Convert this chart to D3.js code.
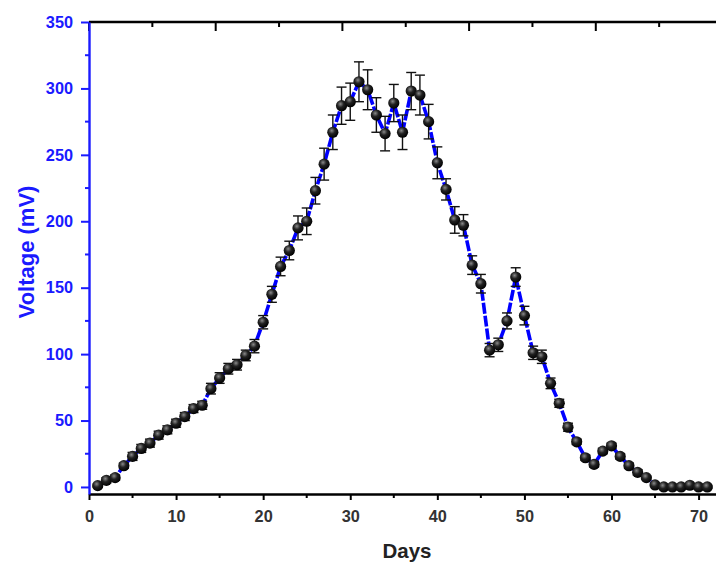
<!DOCTYPE html>
<html>
<head>
<meta charset="utf-8">
<script src="https://cdn.jsdelivr.net/npm/d3@7/dist/d3.min.js"></script>
<style>
  body { margin: 0; background: #fff; }
  svg { display: block; font-family: Arial, "Liberation Sans", sans-serif; }
</style>
</head>
<body>
<div class="canvas"></div>
<script>
// data: days, mean voltage (mV), error (mV)
const days = d3.range(1, 72);
const voltage = [
  1, 5, 7, 16, 23, 29, 33, 39, 43, 48,
  53, 59, 61.5, 74, 82, 89, 92, 99, 106, 124,
  145, 166, 178, 195, 200, 223, 243, 267, 287, 290,
  305, 299, 280, 266, 289, 267, 298, 295, 275, 244,
  224, 201, 197, 167, 153, 103, 107, 125, 158, 129,
  101, 98, 78, 63, 45, 34, 22, 17, 27, 31,
  23, 16, 11, 7, 1.5, 0, 0, 0, 1.3, 0, 0
];
const errors = [
  1, 2, 2, 2, 3, 3, 3, 3, 3, 3,
  3, 3, 3, 4, 4, 4, 4, 4, 5, 5,
  6, 7, 7, 9, 10, 10, 12, 13, 14, 14,
  15, 15, 13, 13, 14, 13, 14, 15, 13, 12,
  8, 10, 8, 7, 7, 5, 5, 6, 7, 7,
  5, 5, 4, 3, 3, 2, 2, 2, 2, 2,
  2, 2, 2, 1, 1, 1, 1, 1, 1, 1, 1
];
const xTicks = [0, 10, 20, 30, 40, 50, 60, 70];
const yTicks = [0, 50, 100, 150, 200, 250, 300, 350];

const data = days.map((d, i) => ({ day: d, v: voltage[i], e: errors[i] }));

// dimensions
const dims = { width: 716, height: 563 };
const margin = { left: 89, right: 0, top: 22, bottom: 69 };
const blue = '#1a1aff';

const svg = d3.select('.canvas')
  .append('svg')
    .attr('width', dims.width)
    .attr('height', dims.height);

// scales
const x = d3.scaleLinear().domain([0, 72]).range([margin.left, 716]);
const y = d3.scaleLinear().domain([-5.3, 350]).range([dims.height - margin.bottom, margin.top]);
// top axis in Origin has its own spacing (major every ~126.7px)
const xTop = d3.scaleLinear().domain([0, (716 - margin.left) / 126.7]).range([margin.left, 716]);

// marker gradient
const defs = svg.append('defs');
const grad = defs.append('radialGradient')
  .attr('id', 'ball').attr('cx', '40%').attr('cy', '35%').attr('r', '65%');
grad.append('stop').attr('offset', '0%').attr('stop-color', '#8a8a8a');
grad.append('stop').attr('offset', '45%').attr('stop-color', '#222');
grad.append('stop').attr('offset', '100%').attr('stop-color', '#000');

// line
const line = d3.line().x(d => x(d.day)).y(d => y(d.v));
svg.append('path')
  .datum(data)
  .attr('d', line)
  .attr('fill', 'none')
  .attr('stroke', '#0000ff')
  .attr('stroke-width', 3.6)
  .attr('stroke-dasharray', '11,2');

// error bars
const eb = svg.append('g').attr('stroke', '#111').attr('stroke-width', 1.4);
eb.selectAll('line.v').data(data).enter().append('line')
  .attr('x1', d => x(d.day)).attr('x2', d => x(d.day))
  .attr('y1', d => y(d.v + d.e)).attr('y2', d => y(d.v - d.e));
eb.selectAll('line.top').data(data).enter().append('line')
  .attr('x1', d => x(d.day) - 5).attr('x2', d => x(d.day) + 5)
  .attr('y1', d => y(d.v + d.e)).attr('y2', d => y(d.v + d.e));
eb.selectAll('line.bot').data(data).enter().append('line')
  .attr('x1', d => x(d.day) - 5).attr('x2', d => x(d.day) + 5)
  .attr('y1', d => y(d.v - d.e)).attr('y2', d => y(d.v - d.e));

// markers
svg.append('g').selectAll('circle').data(data).enter().append('circle')
  .attr('cx', d => x(d.day))
  .attr('cy', d => y(d.v))
  .attr('r', 5.6)
  .attr('fill', 'url(#ball)');

// top axis (black, inward ticks, no labels)
const topAxis = svg.append('g').attr('transform', `translate(0,${margin.top})`);
topAxis.append('line').attr('x1', margin.left).attr('x2', 716)
  .attr('stroke', '#000').attr('stroke-width', 2.4);
topAxis.selectAll('line.t').data(d3.range(0, 5, 0.5)).enter().append('line')
  .attr('x1', d => xTop(d)).attr('x2', d => xTop(d))
  .attr('y1', 0).attr('y2', d => d % 1 === 0 ? 9 : 5)
  .attr('stroke', '#000').attr('stroke-width', 2);

// bottom axis
const xAxis = d3.axisBottom(x).tickValues(xTicks).tickSize(6).tickPadding(10).tickSizeOuter(0);
const gx = svg.append('g')
  .attr('transform', `translate(0,${y.range()[0]})`)
  .call(xAxis);
gx.select('.domain').attr('stroke', '#000').attr('stroke-width', 2.4);
gx.selectAll('.tick line').attr('stroke', '#000').attr('stroke-width', 2);
gx.selectAll('.tick text')
  .attr('fill', '#333').attr('font-size', 16.3).attr('font-weight', 'bold');
gx.selectAll('line.minor').data(d3.range(5, 72, 10)).enter().append('line')
  .attr('x1', d => x(d)).attr('x2', d => x(d)).attr('y1', 0).attr('y2', 4)
  .attr('stroke', '#000').attr('stroke-width', 2);

// left axis (blue)
const yAxis = d3.axisLeft(y).tickValues(yTicks).tickSize(8).tickPadding(8).tickSizeOuter(0);
const gy = svg.append('g')
  .attr('transform', `translate(${margin.left},0)`)
  .call(yAxis);
gy.select('.domain').attr('stroke', blue).attr('stroke-width', 2.4);
gy.selectAll('.tick line').attr('stroke', blue).attr('stroke-width', 2);
gy.selectAll('.tick text')
  .attr('fill', blue).attr('font-size', 16.3).attr('font-weight', 'bold');
gy.selectAll('line.minor').data(d3.range(25, 350, 50)).enter().append('line')
  .attr('x1', -4).attr('x2', 0).attr('y1', d => y(d)).attr('y2', d => y(d))
  .attr('stroke', blue).attr('stroke-width', 2);

// axis titles
svg.append('text')
  .attr('x', 407).attr('y', 558)
  .attr('text-anchor', 'middle')
  .attr('font-size', 20.5).attr('font-weight', 'bold').attr('fill', '#222')
  .text('Days');

svg.append('text')
  .attr('transform', 'translate(34,252) rotate(-90)')
  .attr('text-anchor', 'middle')
  .attr('font-size', 22).attr('font-weight', 'bold').attr('fill', blue)
  .text('Voltage (mV)');
</script>
</body>
</html>
